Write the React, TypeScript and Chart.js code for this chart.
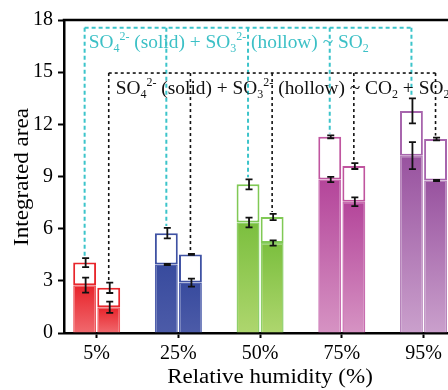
import { useEffect, useRef } from 'react';
import { Chart, registerables } from 'chart.js';
Chart.register(...registerables);

const categories = ['5%', '25%', '50%', '75%', '95%'];
// SO2 exposure (left bars): solid = SO4 2-, total = solid + hollow (SO3 2-)
const so2Solid = [2.75, 3.94, 6.36, 8.83, 10.2];
const so2SolidErr = [0.43, 0.04, 0.28, 0.15, 0.78];
const so2Total = [4.05, 5.74, 8.55, 11.28, 12.77];
const so2TotalErr = [0.26, 0.3, 0.29, 0.08, 0.72];
// CO2 + SO2 exposure (right bars)
const coSolid = [1.48, 2.9, 5.18, 7.55, 8.77];
const coSolidErr = [0.32, 0.23, 0.15, 0.25, 0.04];
const coTotal = [2.6, 4.52, 6.67, 9.6, 11.16];
const coTotalErr = [0.3, 0.03, 0.18, 0.17, 0.08];
const yTicks = [0, 3, 6, 9, 12, 15, 18];

const xTitle = 'Relative humidity (%)';
const yTitle = 'Integrated area';
type Seg = { t: string; k?: 'sup' | 'sub' };
const so2Label: Seg[] = [
  { t: 'SO' }, { t: '4', k: 'sub' }, { t: '2-', k: 'sup' }, { t: ' (solid) + SO' }, { t: '3', k: 'sub' },
  { t: '2-', k: 'sup' }, { t: ' (hollow) ~ SO' }, { t: '2', k: 'sub' },
];
const coLabel: Seg[] = [
  { t: 'SO' }, { t: '4', k: 'sub' }, { t: '2-', k: 'sup' }, { t: ' (solid) + SO' }, { t: '3', k: 'sub' },
  { t: '2-', k: 'sup' }, { t: ' (hollow) ~ CO' }, { t: '2', k: 'sub' }, { t: ' + SO' }, { t: '2', k: 'sub' },
];
const so2Level = 17.55;
const coLevel = 14.95;

const solidTop = ['#e8232a', '#384b9e', '#7bbf3e', '#b4459a', '#98529f'];
const solidBottom = ['#f0696e', '#4c5ba8', '#aed66e', '#d693c3', '#caa0cc'];
const edgeColors = ['#f0565b', '#5060ad', '#8fd06a', '#c96db0', '#b783bb'];
const hollowEdge = ['#e8262c', '#3f52a3', '#80c955', '#c0559f', '#a765ad'];

const FONT = '"Liberation Serif", "Times New Roman", serif';

function drawRich(ctx: CanvasRenderingContext2D, segs: Seg[], x: number, y: number, size: number, color: string, stretch: number) {
  ctx.save();
  ctx.translate(x, y);
  ctx.scale(stretch, 1);
  ctx.fillStyle = color;
  ctx.textBaseline = 'alphabetic';
  ctx.textAlign = 'left';
  let cx = 0;
  for (const s of segs) {
    const fs = s.k ? size * 0.62 : size;
    ctx.font = `${fs}px ${FONT}`;
    const dy = s.k === 'sup' ? -size * 0.4 : s.k === 'sub' ? size * 0.22 : 0;
    ctx.fillText(s.t, cx, dy);
    cx += ctx.measureText(s.t).width;
  }
  ctx.restore();
}

const gradFor = (ctx: any) => {
  const chart = ctx.chart;
  const i = ctx.dataIndex;
  const ys = chart.scales && chart.scales.y;
  if (ctx.type !== 'data' || !ys || !chart.chartArea) return solidTop[i];
  const v = ctx.raw.y;
  const top = ys.getPixelForValue(v);
  const bottom = ys.getPixelForValue(0);
  if (!isFinite(top) || !isFinite(bottom) || top === bottom) return solidTop[i];
  const g = chart.ctx.createLinearGradient(0, top, 0, bottom);
  g.addColorStop(0, solidTop[i]);
  g.addColorStop(1, solidBottom[i]);
  return g;
};

const overlay = {
  id: 'overlay',
  afterDraw(chart: any) {
    const { ctx, chartArea: a } = chart;
    const y = chart.scales.y;
    ctx.save();
    // top frame
    ctx.strokeStyle = '#000';
    ctx.lineWidth = 2.5;
    ctx.beginPath();
    ctx.moveTo(a.left - 1.25, a.top);
    ctx.lineTo(a.right, a.top);
    ctx.stroke();

    const xsL = chart.getDatasetMeta(1).data.map((b: any) => b.x);
    const xsR = chart.getDatasetMeta(3).data.map((b: any) => b.x);

    const dashed = (xs: number[], totals: number[], errs: number[], level: number, color: string, dash: number[], lw: number) => {
      const ly = y.getPixelForValue(level);
      ctx.strokeStyle = color;
      ctx.lineWidth = lw;
      ctx.setLineDash(dash);
      ctx.beginPath();
      ctx.moveTo(xs[0], ly);
      ctx.lineTo(xs[xs.length - 1], ly);
      ctx.stroke();
      xs.forEach((x, i) => {
        ctx.beginPath();
        ctx.moveTo(x, ly);
        ctx.lineTo(x, y.getPixelForValue(totals[i] + errs[i]) - 2);
        ctx.stroke();
      });
      ctx.setLineDash([]);
      return ly;
    };
    const lyS = dashed(xsL, so2Total, so2TotalErr, so2Level, '#3cc4ca', [4, 3], 2);
    const lyC = dashed(xsR, coTotal, coTotalErr, coLevel, '#111', [3, 3], 1.6);

    drawRich(ctx, so2Label, xsL[0] + 4, lyS + 20, 19, '#3cc0c6', 1.02);
    drawRich(ctx, coLabel, xsR[0] + 7, lyC + 21, 19, '#111', 1.02);

    // error bars
    ctx.strokeStyle = '#111';
    ctx.lineWidth = 1.8;
    const err = (x: number, v: number, e: number) => {
      const t = y.getPixelForValue(v + e);
      const b = y.getPixelForValue(v - e);
      ctx.beginPath();
      ctx.moveTo(x, t); ctx.lineTo(x, b);
      ctx.moveTo(x - 3.5, t); ctx.lineTo(x + 3.5, t);
      ctx.moveTo(x - 3.5, b); ctx.lineTo(x + 3.5, b);
      ctx.stroke();
    };
    categories.forEach((_, i) => {
      err(xsL[i] + 1, so2Solid[i], so2SolidErr[i]);
      err(xsL[i] + 1, so2Total[i], so2TotalErr[i]);
      err(xsR[i] + 1, coSolid[i], coSolidErr[i]);
      err(xsR[i] + 1, coTotal[i], coTotalErr[i]);
    });

    // axis titles
    ctx.fillStyle = '#000';
    ctx.textAlign = 'center';
    ctx.textBaseline = 'alphabetic';
    ctx.save();
    ctx.translate(270, 383);
    ctx.scale(1.15, 1);
    ctx.font = `20px ${FONT}`;
    ctx.fillText(xTitle, 0, 0);
    ctx.restore();
    ctx.save();
    ctx.translate(28, 177);
    ctx.rotate(-Math.PI / 2);
    ctx.scale(1.1, 1);
    ctx.font = `21px ${FONT}`;
    ctx.fillText(yTitle, 0, 0);
    ctx.restore();
    ctx.restore();
  },
};

export default function App() {
  const ref = useRef<HTMLCanvasElement>(null);
  useEffect(() => {
    if (!ref.current) return;
    const pts = (arr: number[]) => arr.map((v, i) => ({ x: i, y: v }));
    const chart = new Chart(ref.current, {
      type: 'bar',
      data: {
        datasets: [
          {
            label: 'SO2 solid', stack: 'so2', data: pts(so2Solid),
            backgroundColor: gradFor, borderColor: edgeColors, borderWidth: 1.5,
          },
          {
            label: 'SO2 hollow', stack: 'so2', data: pts(so2Total.map((t, i) => t - so2Solid[i])),
            backgroundColor: '#ffffff', borderColor: hollowEdge, borderWidth: 2, borderSkipped: false,
          },
          {
            label: 'CO2 solid', stack: 'co2', data: pts(coSolid),
            backgroundColor: gradFor, borderColor: edgeColors, borderWidth: 1.5,
          },
          {
            label: 'CO2 hollow', stack: 'co2', data: pts(coTotal.map((t, i) => t - coSolid[i])),
            backgroundColor: '#ffffff', borderColor: hollowEdge, borderWidth: 2, borderSkipped: false,
          },
        ] as any,
      },
      options: {
        animation: false,
        responsive: false,
        devicePixelRatio: 1,
        categoryPercentage: 0.59,
        barPercentage: 0.95,
        layout: { padding: { top: 20, left: 0, right: 0, bottom: 0 } },
        plugins: { legend: { display: false }, tooltip: { enabled: false } },
        scales: {
          x: {
            type: 'linear',
            offset: false,
            stacked: true,
            min: -0.4,
            max: 4.3,
            afterBuildTicks: (s: any) => { s.ticks = categories.map((_, i) => ({ value: i })); },
            afterFit: (s: any) => { s.height = 57; },
            ticks: {
              callback: (v: any) => categories[v] ?? '',
              font: { family: FONT, size: 20 },
              color: '#000',
              padding: 4,
              maxRotation: 0,
              autoSkip: false,
              includeBounds: false,
            },
            grid: { drawOnChartArea: false, drawTicks: true, tickLength: 5, tickWidth: 2, tickColor: '#000', offset: false },
            border: { display: true, color: '#000', width: 2.5 },
          },
          y: {
            stacked: true,
            min: 0,
            max: 18,
            afterBuildTicks: (s: any) => { s.ticks = yTicks.map((v) => ({ value: v })); },
            afterFit: (s: any) => { s.width = 64; },
            ticks: { font: { family: FONT, size: 20 }, color: '#000', padding: 5 },
            grid: { drawOnChartArea: false, drawTicks: true, tickLength: 6, tickWidth: 2, tickColor: '#000' },
            border: { display: true, color: '#000', width: 2.5 },
          },
        },
      } as any,
      plugins: [overlay],
    });
    return () => chart.destroy();
  }, []);
  return (
    <div style={{ position: 'absolute', left: 0, top: 0, width: 448, height: 390, background: '#fff' }}>
      <canvas ref={ref} width={448} height={390} />
    </div>
  );
}
